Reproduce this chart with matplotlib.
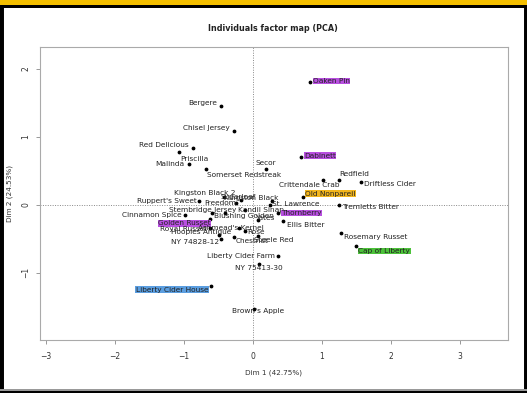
import matplotlib.pyplot as plt
from matplotlib.patches import Rectangle

# PCA individual coordinates (Dim 1, Dim 2)
names = [
    "Oaken Pin", "Bergere", "Chisel Jersey", "Red Delicious", "Priscilla",
    "Malinda", "Somerset Redstreak", "Dabinett", "Secor", "Redfield",
    "Crittendale Crab", "Driftless Cider", "Old Nonpareil", "Kingston Black 2",
    "Sugarloaf", "Kingston Black", "Ruppert's Sweet", "Freedom", "St. Lawrence",
    "Cinnamon Spice", "Stembridge Jersey", "Golden Russet", "Blushing Golden",
    "Kandil Sinap", "Thornberry", "Yates", "Ellis Bitter", "Royal Russet",
    "Ashmead's Kernel", "Hoopies Antique", "Rose", "Chestnut", "Steele Red",
    "NY 74828-12", "Liberty Cider Farm", "NY 75413-30", "Liberty Cider House",
    "Brown's Apple", "Tremletts Bitter", "Rosemary Russet", "Cap of Liberty",
]
dim1 = [
    0.83, -0.46, -0.27, -0.87, -1.07,
    -0.93, -0.68, 0.70, 0.19, 1.25,
    1.02, 1.57, 0.72, -0.42,
    -0.18, 0.28, -0.78, -0.24, 0.24,
    -0.99, -0.41, -0.63, -0.60,
    -0.12, 0.37, 0.07, 0.43, -0.63,
    -0.20, -0.49, -0.12, -0.27, 0.07,
    -0.46, 0.36, 0.09, -0.61,
    0.01, 1.25, 1.28, 1.49,
]
dim2 = [
    1.80, 1.46, 1.09, 0.84, 0.77,
    0.60, 0.52, 0.70, 0.53, 0.37,
    0.37, 0.33, 0.12, 0.11,
    0.07, 0.06, 0.06, 0.03, -0.01,
    -0.15, -0.12, -0.21, -0.12,
    -0.07, -0.12, -0.23, -0.24, -0.34,
    -0.34, -0.44, -0.38, -0.47, -0.46,
    -0.51, -0.75, -0.87, -1.19,
    -1.53, -0.01, -0.42, -0.60,
]

# highlighted cultivars and their label colours
highlight = {
    "Oaken Pin": "#b84fe0",
    "Dabinett": "#b84fe0",
    "Thornberry": "#b84fe0",
    "Golden Russet": "#b84fe0",
    "Old Nonpareil": "#f2b51c",
    "Cap of Liberty": "#4cc23a",
    "Liberty Cider House": "#5b9ee0",
}

# label offsets in points (dx, dy) and horizontal alignment
label_pos = {
    "Oaken Pin": (2, 1, "left"), "Bergere": (-3, 2, "right"),
    "Chisel Jersey": (-3, 2, "right"), "Red Delicious": (-3, 2, "right"),
    "Priscilla": (1, -5, "left"), "Malinda": (-3, 0, "right"),
    "Somerset Redstreak": (1, -4, "left"), "Dabinett": (2, 1, "left"),
    "Secor": (0, 4, "center"), "Redfield": (0, 4, "left"),
    "Crittendale Crab": (-10, -4, "center"), "Driftless Cider": (2, -1, "left"),
    "Old Nonpareil": (2, 2, "left"), "Kingston Black 2": (-14, 3, "center"),
    "Sugarloaf": (-2, 2, "center"), "Kingston Black": (-15, 2, "center"),
    "Ruppert's Sweet": (-2, 0, "right"), "Freedom": (-12, 0, "center"),
    "St. Lawrence": (2, 1, "left"), "Cinnamon Spice": (-2, 0, "right"),
    "Stembridge Jersey": (-16, 2, "center"), "Golden Russet": (-18, -3, "center"),
    "Blushing Golden": (2, -2, "left"), "Kandil Sinap": (12, 0, "center"),
    "Thornberry": (2, 0, "left"), "Yates": (5, 2, "center"),
    "Ellis Bitter": (3, -3, "left"), "Royal Russet": (-2, -1, "right"),
    "Ashmead's Kernel": (-6, 0, "center"), "Hoopies Antique": (-13, 2, "center"),
    "Rose": (2, -1, "left"), "Chestnut": (1, -3, "left"),
    "Steele Red": (-3, -3, "left"), "NY 74828-12": (-19, -2, "center"),
    "Liberty Cider Farm": (-2, 0, "right"), "NY 75413-30": (0, -3, "center"),
    "Liberty Cider House": (-2, -3, "right"), "Brown's Apple": (3, -2, "center"),
    "Tremletts Bitter": (2, -1, "left"), "Rosemary Russet": (2, -3, "left"),
    "Cap of Liberty": (2, -4, "left"),
}

fig = plt.figure(figsize=(5.27, 3.93), dpi=100)
fig.patch.set_facecolor("white")

# outer frame: black border, gold band on top
fig.patches.append(Rectangle((0, 0), 1, 1, transform=fig.transFigure,
                             fill=False, edgecolor="black", lw=5, zorder=0))
fig.patches.append(Rectangle((0, 0.006), 1, 0.004, transform=fig.transFigure,
                             facecolor="#999999", edgecolor="none", zorder=1))
fig.patches.append(Rectangle((0, 0.986), 1, 0.014, transform=fig.transFigure,
                             facecolor="#f4bf00", edgecolor="none", zorder=1))
fig.patches.append(Rectangle((0, 0.980), 1, 0.007, transform=fig.transFigure,
                             facecolor="black", edgecolor="none", zorder=1))

ax = fig.add_axes([0.0759, 0.135, 0.888, 0.745])
ax.set_xlim(-3.09, 3.70)
ax.set_ylim(-1.99, 2.32)

ax.axhline(0, color="#888888", lw=0.7, ls=(0, (1, 1.5)), zorder=1)
ax.axvline(0, color="#888888", lw=0.7, ls=(0, (1, 1.5)), zorder=1)

ax.scatter(dim1, dim2, s=3, color="black", zorder=3)

for name, x, y in zip(names, dim1, dim2):
    dx, dy, ha = label_pos[name]
    kw = {}
    if name in highlight:
        kw["bbox"] = dict(boxstyle="square,pad=0.05", facecolor=highlight[name],
                          edgecolor="none")
    ax.annotate(name, (x, y), xytext=(dx, dy), textcoords="offset points",
                ha=ha, va="center", fontsize=5.3, color="#222222", zorder=4, **kw)

ax.set_xticks([-3, -2, -1, 0, 1, 2, 3])
ax.set_yticks([-1, 0, 1, 2])
for s in ax.spines.values():
    s.set_color("#aaaaaa")
    s.set_linewidth(0.8)
ax.tick_params(length=3, width=0.6, color="#888888", labelsize=5.5,
               labelcolor="#333333")
ax.tick_params(axis="x", pad=6)
ax.tick_params(axis="y", pad=4)
for lab in ax.get_yticklabels():
    lab.set_rotation(90)
    lab.set_va("center")

ax.set_xlabel("Dim 1 (42.75%)", fontsize=5.2, color="#333333", labelpad=6)
ax.set_ylabel("Dim 2 (24.53%)", fontsize=5.2, color="#333333")
ax.yaxis.set_label_coords(-0.058, 0.5)
fig.text(0.518, 0.928, "Individuals factor map (PCA)", ha="center", va="center",
         fontsize=5.8, fontweight="bold", color="#222222")

fig.savefig("out.png", dpi=100)
